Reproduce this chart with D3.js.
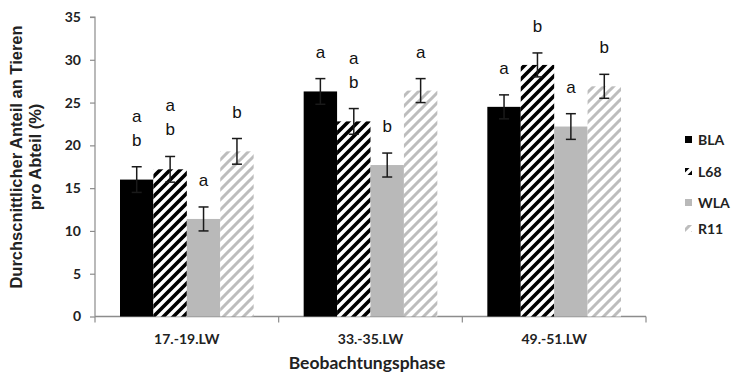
<!DOCTYPE html>
<html>
<head>
<meta charset="utf-8">
<script src="https://cdn.jsdelivr.net/npm/d3@7/dist/d3.min.js"></script>
<style>
  html, body { margin: 0; padding: 0; background: #fff; }
  svg { display: block; }
</style>
</head>
<body>
<svg id="chart" width="732" height="375"></svg>
<script>
// Observation phases (x categories) and line groups (series)
const phases = ["17.-19.LW", "33.-35.LW", "49.-51.LW"];
const lines = ["BLA", "L68", "WLA", "R11"];

// Mean share of animals per pen (%) for each line, by phase
const BLA = [16.0, 26.3, 24.5];
const L68 = [17.2, 22.8, 29.4];
const WLA = [11.4, 17.7, 22.2];
const R11 = [19.3, 26.4, 26.9];

// Error (±) per bar
const BLA_err = [1.5, 1.5, 1.4];
const L68_err = [1.5, 1.5, 1.4];
const WLA_err = [1.4, 1.4, 1.5];
const R11_err = [1.5, 1.4, 1.4];

// Significance letters above each bar (stacked top to bottom)
const BLA_sig = [["a", "b"], ["a"], ["a"]];
const L68_sig = [["a", "b"], ["a", "b"], ["b"]];
const WLA_sig = [["a"], ["b"], ["a"]];
const R11_sig = [["b"], ["a"], ["b"]];

const yTicks = [0, 5, 10, 15, 20, 25, 30, 35];

const seriesValues = { BLA, L68, WLA, R11 };
const seriesErr = { BLA: BLA_err, L68: L68_err, WLA: WLA_err, R11: R11_err };
const seriesSig = { BLA: BLA_sig, L68: L68_sig, WLA: WLA_sig, R11: R11_sig };

const rows = [];
phases.forEach((p, i) => {
  lines.forEach(s => {
    rows.push({ phase: p, series: s, value: seriesValues[s][i], err: seriesErr[s][i], sig: seriesSig[s][i] });
  });
});

const svg = d3.select("#chart");
const axisColor = "#8c8c8c";
const tickFont = "Lato, 'Open Sans', sans-serif";

// Fill patterns: black diagonal hatch and light grey diagonal hatch
const defs = svg.append("defs");
function hatch(id, color, width) {
  const p = defs.append("pattern")
    .attr("id", id)
    .attr("patternUnits", "userSpaceOnUse")
    .attr("width", 10).attr("height", 10);
  p.append("rect").attr("width", 10).attr("height", 10).attr("fill", "#fff");
  p.append("path")
    .attr("d", "M-2,12 L12,-2 M-7,7 L7,-7 M3,17 L17,3")
    .attr("stroke", color).attr("stroke-width", width).attr("fill", "none");
}
hatch("hatchBlack", "#000", 3.6);
hatch("hatchGrey", "#bdbdbd", 3.0);

const fills = {
  BLA: "#000",
  L68: "url(#hatchBlack)",
  WLA: "#b9b9b9",
  R11: "url(#hatchGrey)"
};

// Scales
const x = d3.scaleBand().domain(phases).range([95, 646]).paddingInner(0).paddingOuter(0);
const xs = d3.scaleBand().domain(lines).range([25, x.bandwidth() - 25]).padding(0);
const y = d3.scaleLinear().domain([0, 35]).range([316.5, 17]);

// Y axis
const yAxis = d3.axisLeft(y).tickValues(yTicks).tickSize(5).tickPadding(9);
const gy = svg.append("g").attr("transform", "translate(95,0)").call(yAxis);
gy.select(".domain").attr("stroke", axisColor).attr("stroke-width", 1.2).attr("d", `M-5,${y(35)}H0V${y(0)}`);
gy.selectAll(".tick line").attr("stroke", axisColor).attr("stroke-width", 1.2);
gy.selectAll(".tick text")
  .attr("font-family", tickFont).attr("font-weight", 700).attr("font-size", 14).attr("fill", "#222");

// X axis with ticks at category boundaries
const gx = svg.append("g").attr("transform", `translate(0,${y(0)})`);
gx.append("line").attr("x1", 95).attr("x2", 646).attr("y1", 0).attr("y2", 0)
  .attr("stroke", axisColor).attr("stroke-width", 1.5);
const bounds = phases.map(p => x(p)).concat([x(phases[phases.length - 1]) + x.bandwidth()]);
gx.selectAll("line.bound").data(bounds).join("line").attr("class", "bound")
  .attr("x1", d => d).attr("x2", d => d).attr("y1", 0).attr("y2", 6)
  .attr("stroke", axisColor).attr("stroke-width", 1.2);
gx.selectAll("text.cat").data(phases).join("text").attr("class", "cat")
  .attr("x", d => x(d) + x.bandwidth() / 2).attr("y", 27)
  .attr("text-anchor", "middle")
  .attr("font-family", tickFont).attr("font-weight", 700).attr("font-size", 14).attr("fill", "#222")
  .text(d => d);

// Bars
const barX = d => x(d.phase) + xs(d.series);
svg.append("g").selectAll("rect").data(rows).join("rect")
  .attr("x", barX)
  .attr("y", d => y(d.value))
  .attr("width", xs.bandwidth())
  .attr("height", d => y(0) - y(d.value))
  .attr("fill", d => fills[d.series]);

// Error bars
const eg = svg.append("g").attr("stroke", "#1a1a1a").attr("stroke-width", 1.5);
rows.forEach(d => {
  const cx = barX(d) + xs.bandwidth() / 2;
  const t = y(d.value + d.err), b = y(d.value - d.err);
  eg.append("line").attr("x1", cx).attr("x2", cx).attr("y1", t).attr("y2", b);
  eg.append("line").attr("x1", cx - 5).attr("x2", cx + 5).attr("y1", t).attr("y2", t);
  eg.append("line").attr("x1", cx - 5).attr("x2", cx + 5).attr("y1", b).attr("y2", b);
});

// Significance letters
const lg = svg.append("g")
  .attr("font-family", "'Liberation Sans', Arial, sans-serif")
  .attr("font-size", 17).attr("fill", "#111").attr("text-anchor", "middle");
rows.forEach(d => {
  const cx = barX(d) + xs.bandwidth() / 2;
  const base = y(d.value + d.err) - 21;
  const n = d.sig.length;
  d.sig.forEach((letter, k) => {
    lg.append("text").attr("x", cx).attr("y", base - (n - 1 - k) * 24).text(letter);
  });
});

// Legend
const leg = svg.append("g").attr("transform", "translate(685,0)");
const legY = [140, 172, 203, 229];
lines.forEach((s, i) => {
  leg.append("rect").attr("x", 0).attr("y", legY[i] - 4).attr("width", 7).attr("height", 7)
    .attr("fill", fills[s]);
  leg.append("text").attr("x", 13).attr("y", legY[i] + 5)
    .attr("font-family", tickFont).attr("font-weight", 700).attr("font-size", 14).attr("fill", "#222")
    .text(s);
});

// Axis titles
svg.append("text")
  .attr("transform", "translate(367,369)")
  .attr("text-anchor", "middle")
  .attr("font-family", tickFont).attr("font-weight", 700).attr("font-size", 17.5).attr("fill", "#222")
  .text("Beobachtungsphase");

const yt = svg.append("text")
  .attr("transform", "translate(0,157) rotate(-90)")
  .attr("text-anchor", "middle")
  .attr("font-family", "'Liberation Sans', Arial, sans-serif")
  .attr("font-weight", 700).attr("font-size", 16.5).attr("fill", "#222");
yt.append("tspan").attr("x", 0).attr("y", 22).text("Durchscnittlicher Anteil an Tieren");
yt.append("tspan").attr("x", 0).attr("y", 41).text("pro Abteil (%)");
</script>
</body>
</html>
